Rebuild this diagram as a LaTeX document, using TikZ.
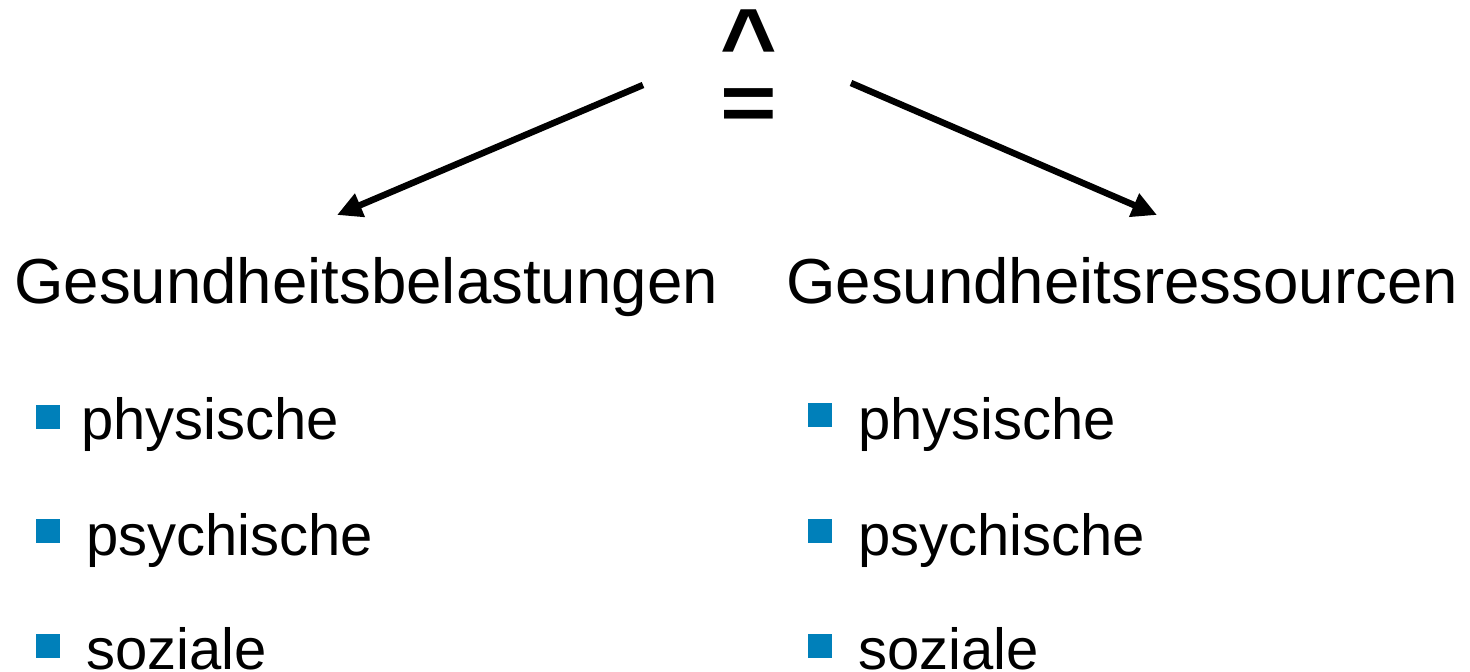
\documentclass[tikz,border=0pt]{standalone}
\usepackage{fontspec}
\setmainfont{Liberation Sans}
\usetikzlibrary{arrows.meta}
\definecolor{bulletblue}{HTML}{0080BA}
\tikzset{
  heading/.style={anchor=base west, inner sep=0pt, font=\fontsize{63.6}{70}\selectfont},
  item/.style={anchor=base west, inner sep=0pt, font=\fontsize{58}{64}\selectfont},
  sym/.style={anchor=north, inner sep=0pt, align=center, font=\fontsize{97}{53.5}\selectfont\bfseries},
  bullet/.style={fill=bulletblue, draw=none, minimum size=24pt, inner sep=0pt, anchor=north west},
  branch/.style={line width=6.5pt, -{Triangle[length=25pt, width=24pt]}}
}
\begin{document}
\begin{tikzpicture}[x=1pt, y=-1pt]
  \useasboundingbox (0,0) rectangle (1470,672);

  % correspondence symbol at the top (hat over equals sign)
  \node[sym] (corr) at (748.5,10) {\textasciicircum\\\scalebox{1}[0.83]{=}};

  % headings
  \node[heading] (load) at (14,303) {Gesundheitsbelastungen};
  \node[heading] (res) at (786,303) {Gesundheitsressourcen};

  % arrow ends
  \coordinate (lstart) at (643,85);
  \coordinate (lend) at (337,215);
  \coordinate (rstart) at (851,83);
  \coordinate (rend) at (1157,215);
  \draw[branch] (lstart) -- (lend);
  \draw[branch] (rstart) -- (rend);

  % left list
  \node[bullet] (lb1) at (36,405) {};
  \node[item] (l1) at (81,439) {physische};
  \node[bullet] (lb2) at (36,519) {};
  \node[item] (l2) at (86,555) {psychische};
  \node[bullet] (lb3) at (36,634) {};
  \node[item] (l3) at (86,669) {soziale};

  % right list
  \node[bullet] (rb1) at (808,403) {};
  \node[item] (r1) at (858,439) {physische};
  \node[bullet] (rb2) at (808,519) {};
  \node[item] (r2) at (858,555) {psychische};
  \node[bullet] (rb3) at (808,634) {};
  \node[item] (r3) at (858,669) {soziale};
\end{tikzpicture}
\end{document}
